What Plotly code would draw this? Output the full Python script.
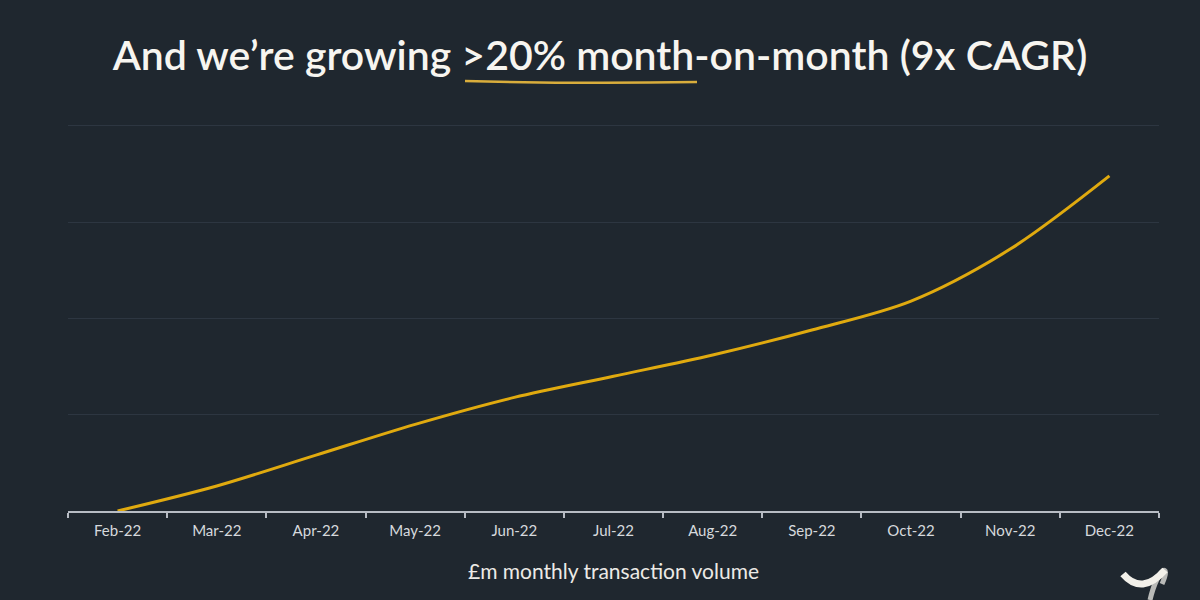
import plotly.graph_objects as go

months = ["Feb-22", "Mar-22", "Apr-22", "May-22", "Jun-22", "Jul-22",
          "Aug-22", "Sep-22", "Oct-22", "Nov-22", "Dec-22"]
# £m monthly transaction volume (axis 0-20)
volume = [0.0, 1.3, 2.9, 4.5, 5.9, 7.0, 8.1, 9.4, 10.9, 13.6, 17.4]

BG = "#1f272f"
GOLD = "#e0aa0f"

# plot area in pixels, used to place the decorations in paper coords
L, R, T, B = 68, 1159, 122, 511
YMAX = 20.2


def px(x, y):
    return (x - L) / (R - L), (B - y) / (B - T)


fig = go.Figure()
fig.add_trace(go.Scatter(
    x=months, y=volume, mode="lines",
    line=dict(color=GOLD, width=3, shape="spline", smoothing=0.9),
    hoverinfo="x+y", showlegend=False,
))

# hand-drawn underline under ">20% month-on-month"
a, b, c = px(465, 81), px(580, 84), px(697, 82)
underline = f"M {a[0]} {a[1]} Q {b[0]} {b[1]} {c[0]} {c[1]}"

# rough logo in the corner
l1, l2, l3 = px(1123, 574), px(1142, 596), px(1165, 570)
logo_white = f"M {l1[0]} {l1[1]} Q {l2[0]} {l2[1]} {l3[0]} {l3[1]}"
g1, g2, g3, g4 = px(1150, 600), px(1158, 566), px(1172, 562), px(1162, 584)
logo_grey = f"M {g1[0]} {g1[1]} C {g2[0]} {g2[1]} {g3[0]} {g3[1]} {g4[0]} {g4[1]}"

fig.update_layout(
    width=1200, height=600,
    paper_bgcolor=BG, plot_bgcolor=BG,
    margin=dict(l=L, r=1200 - R, t=T, b=600 - B),
    title=dict(
        text="And we’re growing >20% month-on-month (9x CAGR)",
        x=0.5, xanchor="center", y=0.908, yanchor="middle",
        font=dict(family="Lato", size=41, color="#f7f5f0", weight=600),
    ),
    xaxis=dict(
        type="category", tickson="boundaries", range=[-0.5, 10.5],
        showline=True, linecolor="#b7bcc4", linewidth=1.5,
        ticks="outside", ticklen=5, tickcolor="#b7bcc4", tickwidth=1.5,
        ticklabelstandoff=5,
        showgrid=False, zeroline=False,
        tickfont=dict(family="Lato", size=15, color="#d6d9dd"),
        title=dict(text="£m monthly transaction volume", standoff=27,
                   font=dict(family="Lato", size=21, color="#eceae6")),
    ),
    yaxis=dict(
        range=[0, YMAX], tickvals=[5, 10, 15, 20], showticklabels=False,
        showgrid=True, gridcolor="#2d3641", gridwidth=1,
        zeroline=False, showline=False,
    ),
    shapes=[
        dict(type="path", path=underline, xref="paper", yref="paper",
             line=dict(color="#d9ad3c", width=2.5)),
        dict(type="path", path=logo_grey, xref="paper", yref="paper",
             line=dict(color="#b9bab8", width=5)),
        dict(type="path", path=logo_white, xref="paper", yref="paper",
             line=dict(color="#f2f0ea", width=7)),
    ],
)

fig.write_html(
    "out.html",
    config={"displayModeBar": False},
    post_script="document.body.style.margin='0';"
                "document.body.style.background='" + BG + "';",
)
